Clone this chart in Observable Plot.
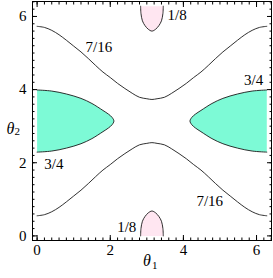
<!DOCTYPE html>
<html><head><meta charset="utf-8">
<script src="https://cdn.jsdelivr.net/npm/d3@7"></script>
<script src="https://cdn.jsdelivr.net/npm/@observablehq/plot@0.6"></script>
<style>body{margin:0;background:#fff;overflow:hidden}</style>
</head><body><div id="chart"></div>
<script>
// ---- contour 7/16 ----
const line716X = [0,0.2,0.4,0.6,0.8,1.0,1.2,1.4,1.6,1.8,2.0,2.2,2.4,2.6,2.8,3.0,3.14,3.28,3.48,3.68,3.88,4.08,4.28,4.48,4.68,4.88,5.08,5.28,5.48,5.68,5.88,6.08,6.28];
const line716UpperY = [5.73,5.70,5.62,5.50,5.35,5.19,5.03,4.85,4.66,4.48,4.33,4.17,4.03,3.90,3.79,3.75,3.73,3.75,3.79,3.90,4.03,4.17,4.33,4.48,4.66,4.85,5.03,5.19,5.35,5.50,5.62,5.70,5.73];
const line716LowerY = [0.55,0.58,0.66,0.78,0.93,1.09,1.25,1.43,1.62,1.80,1.95,2.11,2.25,2.38,2.49,2.53,2.55,2.53,2.49,2.38,2.25,2.11,1.95,1.80,1.62,1.43,1.25,1.09,0.93,0.78,0.66,0.58,0.55];

// ---- contour 3/4 (filled) ----
const blob34LeftX = [0,0.4,0.8,1.2,1.5,1.8,1.95,2.05,2.10,2.05,1.95,1.8,1.5,1.2,0.8,0.4,0];
const blob34RightX = [6.28,5.88,5.48,5.08,4.78,4.48,4.33,4.23,4.18,4.23,4.33,4.48,4.78,5.08,5.48,5.88,6.28];
const blob34Y = [3.99,3.96,3.88,3.76,3.62,3.43,3.33,3.24,3.14,3.04,2.95,2.85,2.66,2.52,2.40,2.32,2.29];

// ---- contour 1/8 (filled) ----
const blob18X = [2.83,2.84,2.88,2.95,3.04,3.14,3.24,3.33,3.40,3.44,3.45];
const blob18BottomY = [0,0.2,0.4,0.53,0.63,0.68,0.63,0.53,0.4,0.2,0];
const blob18TopY = [6.28,6.08,5.88,5.75,5.65,5.60,5.65,5.75,5.88,6.08,6.28];

// ---- contour labels ----
const labelText = ["1/8","1/8","7/16","7/16","3/4","3/4"];
const labelX = [3.83,2.45,1.69,4.72,5.92,0.46];
const labelY = [6.03,0.23,5.16,0.96,4.25,1.96];

// ---- ticks ----
const majorTicks = [0,2,4,6];
const majorTickLabels = ["0","2","4","6"];
const minorTicks = d3.range(0, 6.5, 0.2).map(v => +v.toFixed(1));

const pts = (xs, ys) => xs.map((x, i) => ({x, y: ys[i]}));

const FONT = "Liberation Serif, Times New Roman, serif";
const dom = [-0.126, 6.409];
const lineStyle = {x: "x", y: "y", stroke: "#1a1a1a", strokeWidth: 0.9, curve: "catmull-rom"};
const tk = (anchor, ticks, size) => {
  const o = {anchor, ticks, tickSize: size, text: null, label: null, stroke: "black"};
  if (anchor === "bottom") o.dy = -size;
  if (anchor === "top") o.dy = size;
  if (anchor === "left") o.dx = size;
  if (anchor === "right") o.dx = -size;
  return (anchor === "bottom" || anchor === "top") ? Plot.axisX(o) : Plot.axisY(o);
};

const chart = Plot.plot({
  width: 273, height: 278,
  marginLeft: 32, marginRight: 2, marginTop: 1, marginBottom: 38,
  x: {domain: dom, label: null},
  y: {domain: dom, label: null},
  style: {fontFamily: FONT, background: "white"},
  marks: [
    Plot.line(pts(blob34LeftX, blob34Y), {...lineStyle, fill: "#7dfad6"}),
    Plot.line(pts(blob34RightX, blob34Y), {...lineStyle, fill: "#7dfad6"}),
    Plot.line(pts(blob18X, blob18BottomY), {...lineStyle, fill: "#ffe6f1"}),
    Plot.line(pts(blob18X, blob18TopY), {...lineStyle, fill: "#ffe6f1"}),
    Plot.line(pts(line716X, line716UpperY), lineStyle),
    Plot.line(pts(line716X, line716LowerY), lineStyle),
    Plot.text(labelText.map((t, i) => ({t, x: labelX[i], y: labelY[i]})), {x: "x", y: "y", text: "t", fontSize: 15, fill: "black"}),
    // axes
    Plot.axisX({ticks: majorTicks, tickFormat: (d, i) => majorTickLabels[i], tickSize: 0, tickPadding: 4, fontSize: 15, fill: "black", label: null}),
    Plot.axisY({ticks: majorTicks, tickFormat: (d, i) => majorTickLabels[i], tickSize: 0, tickPadding: 6, fontSize: 15, fill: "black", label: null}),
    tk("bottom", majorTicks, 5), tk("top", majorTicks, 5), tk("left", majorTicks, 5), tk("right", majorTicks, 5),
    tk("bottom", minorTicks, 2.5), tk("top", minorTicks, 2.5), tk("left", minorTicks, 2.5), tk("right", minorTicks, 2.5),
    Plot.frame({stroke: "black", strokeWidth: 1}),
    // axis titles
    Plot.text(["θ"], {x: 3.0, frameAnchor: "bottom", dy: 25, fontSize: 16, fontStyle: "italic", fill: "black"}),
    Plot.text(["1"], {x: 3.0, frameAnchor: "bottom", dy: 28, dx: 8, fontSize: 11, fill: "black"}),
    Plot.text(["θ"], {y: 2.93, frameAnchor: "left", dx: -26, fontSize: 16, fontStyle: "italic", fill: "black"}),
    Plot.text(["2"], {y: 2.93, frameAnchor: "left", dx: -18, dy: 3, fontSize: 11, fill: "black"})
  ]
});
document.getElementById("chart").appendChild(chart);
</script>
</body></html>
